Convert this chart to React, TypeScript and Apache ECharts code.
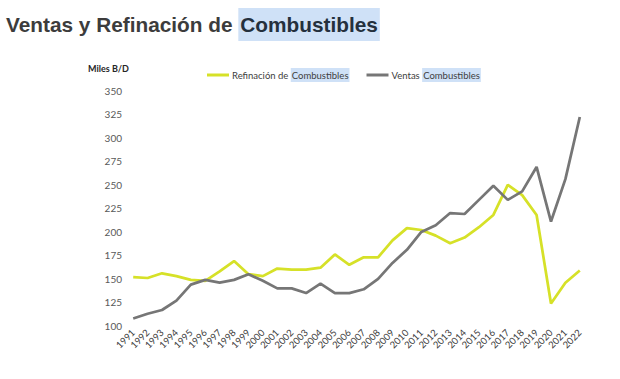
import React, { useEffect, useRef } from "react";
import * as echarts from "echarts";

const years = [
  "1991", "1992", "1993", "1994", "1995", "1996", "1997", "1998", "1999", "2000",
  "2001", "2002", "2003", "2004", "2005", "2006", "2007", "2008", "2009", "2010",
  "2011", "2012", "2013", "2014", "2015", "2016", "2017", "2018", "2019", "2020",
  "2021", "2022",
];

const refinacion = [
  152, 151, 156, 153, 149, 148, 158, 169, 155, 153,
  161, 160, 160, 162, 176, 165, 173, 173, 191, 204,
  202, 196, 188, 194, 205, 218, 250, 239, 218, 124,
  146, 159,
];

const ventas = [
  108, 113, 117, 127, 144, 149, 146, 149, 155, 148,
  140, 140, 135, 145, 135, 135, 139, 150, 167, 181,
  200, 207, 220, 219, 234, 249, 234, 243, 269, 211,
  256, 322,
];

const yTicks = { min: 100, max: 350, interval: 25 };

const SERIES_REF = "Refinación de Combustibles";
const SERIES_VEN = "Ventas Combustibles";

export default function App() {
  const ref = useRef<HTMLDivElement>(null);

  useEffect(() => {
    if (!ref.current) return;
    const chart = echarts.init(ref.current, undefined, { renderer: "svg" });
    chart.setOption({
      animation: false,
      backgroundColor: "#ffffff",
      title: {
        text: "{a|Ventas y Refinación de }{b|Combustibles}",
        left: 1,
        top: 3,
        textStyle: {
          rich: {
            a: {
              fontFamily: "Liberation Sans, Arial, sans-serif",
              fontWeight: "bold",
              fontSize: 20.8,
              color: "#3c3c3c",
              padding: [6, 0, 6, 0],
            },
            b: {
              fontFamily: "Liberation Sans, Arial, sans-serif",
              fontWeight: "bold",
              fontSize: 20.8,
              color: "#24303d",
              backgroundColor: "#cfe1f7",
              padding: [6, 2, 6, 2],
            },
          },
        },
      },
      graphic: [
        {
          type: "text",
          left: 88,
          top: 64,
          style: {
            text: "Miles B/D",
            font: "bold 9px Lato, sans-serif",
            fill: "#262626",
          },
        },
      ],
      legend: {
        left: 202,
        top: 63,
        icon: "rect",
        itemWidth: 22,
        itemHeight: 3,
        itemGap: 17,
        data: [SERIES_REF, SERIES_VEN],
        formatter: (name: string) => {
          const idx = name.lastIndexOf("Combustibles");
          return `{a|${name.slice(0, idx)}}{b|Combustibles}`;
        },
        textStyle: {
          padding: [0, 0, 0, -2],
          rich: {
            a: { fontFamily: "Lato, sans-serif", fontSize: 9.5, color: "#404040" },
            b: {
              fontFamily: "Lato, sans-serif",
              fontSize: 9.5,
              color: "#404040",
              backgroundColor: "#cfe1f7",
              padding: [2, 1, 2, 1],
            },
          },
        },
      },
      grid: {
        left: 126,
        right: 33,
        top: 90.7,
        bottom: 53,
        containLabel: false,
      },
      xAxis: {
        type: "category",
        data: years,
        boundaryGap: true,
        axisLine: { show: false },
        axisTick: { show: false },
        axisLabel: {
          rotate: 45,
          interval: 0,
          margin: 5,
          fontFamily: "Lato, sans-serif",
          fontSize: 9.5,
          color: "#404040",
        },
        splitLine: { show: false },
      },
      yAxis: {
        type: "value",
        min: yTicks.min,
        max: yTicks.max,
        interval: yTicks.interval,
        axisLine: { show: false },
        axisTick: { show: false },
        splitLine: { show: false },
        axisLabel: {
          margin: 4,
          fontFamily: "Lato, sans-serif",
          fontSize: 10,
          color: "#595959",
        },
      },
      series: [
        {
          name: SERIES_REF,
          type: "line",
          data: refinacion,
          showSymbol: false,
          symbol: "none",
          lineStyle: { color: "#d6e128", width: 2.75 },
          itemStyle: { color: "#d6e128" },
        },
        {
          name: SERIES_VEN,
          type: "line",
          data: ventas,
          showSymbol: false,
          symbol: "none",
          lineStyle: { color: "#767676", width: 2.75 },
          itemStyle: { color: "#767676" },
        },
      ],
    });
    return () => chart.dispose();
  }, []);

  return (
    <div
      ref={ref}
      style={{ position: "absolute", left: 0, top: 0, width: 620, height: 379, background: "#fff" }}
    />
  );
}
